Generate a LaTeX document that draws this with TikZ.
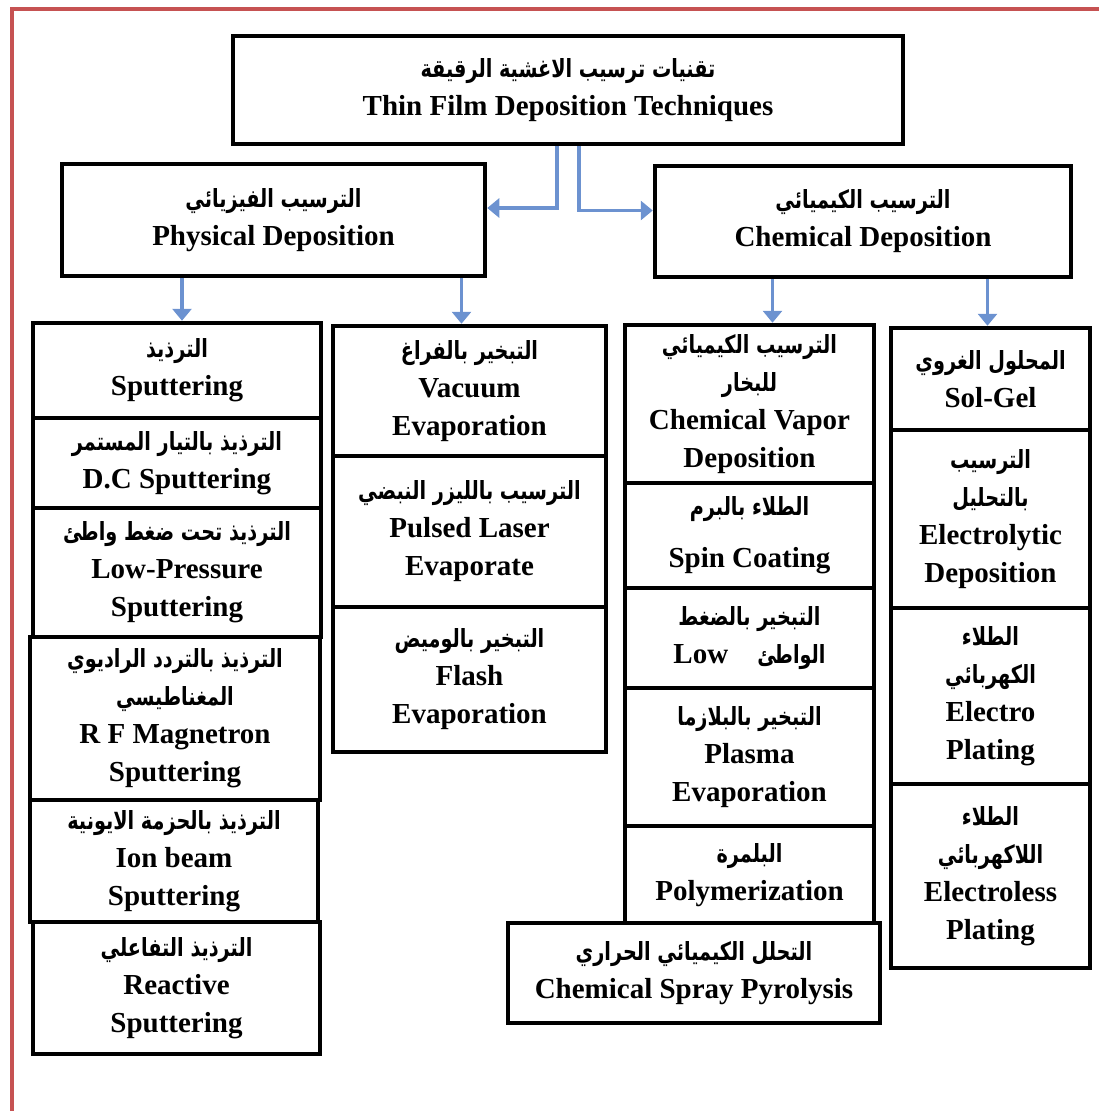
\documentclass[tikz,border=0pt]{standalone}
\usepackage{fontspec}
\setmainfont{Liberation Serif}
\newfontfamily\arabicfont[Script=Arabic,FakeStretch=0.77]{DejaVu Sans}
\TeXXeTstate=1
\usetikzlibrary{arrows.meta}
\definecolor{linkblue}{RGB}{108,146,208}
\definecolor{framered}{RGB}{198,82,82}
\newcommand{\arab}[1]{{\arabicfont\fontsize{25}{38}\selectfont\beginR #1\endR}}

\begin{document}
\begin{tikzpicture}[x=1pt,y=-1pt,
    cell/.style={draw,line width=4.5pt,fill=white,align=center,inner sep=0pt,
      font=\fontsize{29}{38}\selectfont\bfseries},
    link/.style={draw=linkblue,line width=3.5pt,-{Triangle[width=19pt,length=12pt]}}]
        \useasboundingbox (0,0) rectangle (1099,1111);
        \draw[framered,line width=4pt] (12,1111) -- (12,9) -- (1099,9);
        % top level
        \node[cell,minimum width=670pt,minimum height=108pt] (top) at (568,90)
            {\arab{تقنيات ترسيب الاغشية الرقيقة}\\Thin Film Deposition Techniques};
        \node[cell,minimum width=423pt,minimum height=112pt] (phys) at (273.5,220)
            {\arab{الترسيب الفيزيائي}\\Physical Deposition};
        \node[cell,minimum width=416pt,minimum height=111pt] (chem) at (863,221.5)
            {\arab{الترسيب الكيميائي}\\Chemical Deposition};
        % physical, first column
        \node[cell,minimum width=288pt,minimum height=95pt] (sput) at (177,370.5)
            {\arab{الترذيذ}\\Sputtering};
        \node[cell,minimum width=288pt,minimum height=90pt] (dcsput) at (177,463)
            {\arab{الترذيذ بالتيار المستمر}\\D.C Sputtering};
        \node[cell,minimum width=288pt,minimum height=129pt] (lpsput) at (177,572.5)
            {\arab{الترذيذ تحت ضغط واطئ}\\Low-Pressure\\Sputtering};
        \node[cell,minimum width=290pt,minimum height=163pt] (rfsput) at (175,718.5)
            {\arab{الترذيذ بالتردد الراديوي}\\\arab{المغناطيسي}\\R F Magnetron\\Sputtering};
        \node[cell,minimum width=288pt,minimum height=122pt] (ionsput) at (174,861)
            {\arab{الترذيذ بالحزمة الايونية}\\Ion beam\\Sputtering};
        \node[cell,minimum width=287pt,minimum height=132pt] (resput) at (176.5,988)
            {\arab{الترذيذ التفاعلي}\\Reactive\\Sputtering};
        % physical, second column
        \node[cell,minimum width=273pt,minimum height=130pt] (vacevap) at (469.5,391)
            {\arab{التبخير بالفراغ}\\Vacuum\\Evaporation};
        \node[cell,minimum width=273pt,minimum height=151pt] (plevap) at (469.5,531.5)
            {\arab{الترسيب بالليزر النبضي}\\Pulsed Laser\\Evaporate};
        \node[cell,minimum width=273pt,minimum height=145pt] (flevap) at (469.5,679.5)
            {\arab{التبخير بالوميض}\\Flash\\Evaporation};
        % chemical, third column
        \node[cell,minimum width=249pt,minimum height=158pt] (cvd) at (749.5,404)
            {\arab{الترسيب الكيميائي}\\\arab{للبخار}\\Chemical Vapor\\Deposition};
        \node[cell,minimum width=249pt,minimum height=105pt] (spin) at (749.5,535.5)
            {\arab{الطلاء بالبرم}\\[14pt]Spin Coating};
        \node[cell,minimum width=249pt,minimum height=100pt] (lpevap) at (749.5,638)
            {\arab{التبخير بالضغط}\\Low\quad\arab{الواطئ}};
        \node[cell,minimum width=249pt,minimum height=138pt] (plasma) at (749.5,757)
            {\arab{التبخير بالبلازما}\\Plasma\\Evaporation};
        \node[cell,minimum width=249pt,minimum height=99pt] (poly) at (749.5,875.5)
            {\arab{البلمرة}\\Polymerization};
        \node[cell,minimum width=372pt,minimum height=100pt] (spray) at (694,973)
            {\arab{التحلل الكيميائي الحراري}\\Chemical Spray Pyrolysis};
        % chemical, fourth column
        \node[cell,minimum width=199pt,minimum height=102pt] (solgel) at (990.5,379)
            {\arab{المحلول الغروي}\\Sol-Gel};
        \node[cell,minimum width=199pt,minimum height=178pt] (elytic) at (990.5,519)
            {\arab{الترسيب}\\\arab{بالتحليل}\\Electrolytic\\Deposition};
        \node[cell,minimum width=199pt,minimum height=176pt] (eplate) at (990.5,696)
            {\arab{الطلاء}\\\arab{الكهربائي}\\Electro\\Plating};
        \node[cell,minimum width=199pt,minimum height=184pt] (elplate) at (990.5,876)
            {\arab{الطلاء}\\\arab{اللاكهربائي}\\Electroless\\Plating};
        % arrows
        \draw[link] ([xshift=-11pt]top.south) |- ([yshift=12pt]phys.east);
        \draw[link] ([xshift=11pt]top.south) |- ([yshift=11pt]chem.west);
        \draw[link] ([xshift=5pt]sput.north |- phys.south) -- ([xshift=5pt]sput.north);
        \draw[link] ([xshift=-8pt]vacevap.north |- phys.south) -- ([xshift=-8pt]vacevap.north);
        \draw[link] ([xshift=23pt]cvd.north |- chem.south) -- ([xshift=23pt]cvd.north);
        \draw[link] ([xshift=-3pt]solgel.north |- chem.south) -- ([xshift=-3pt]solgel.north);
\end{tikzpicture}
\end{document}
